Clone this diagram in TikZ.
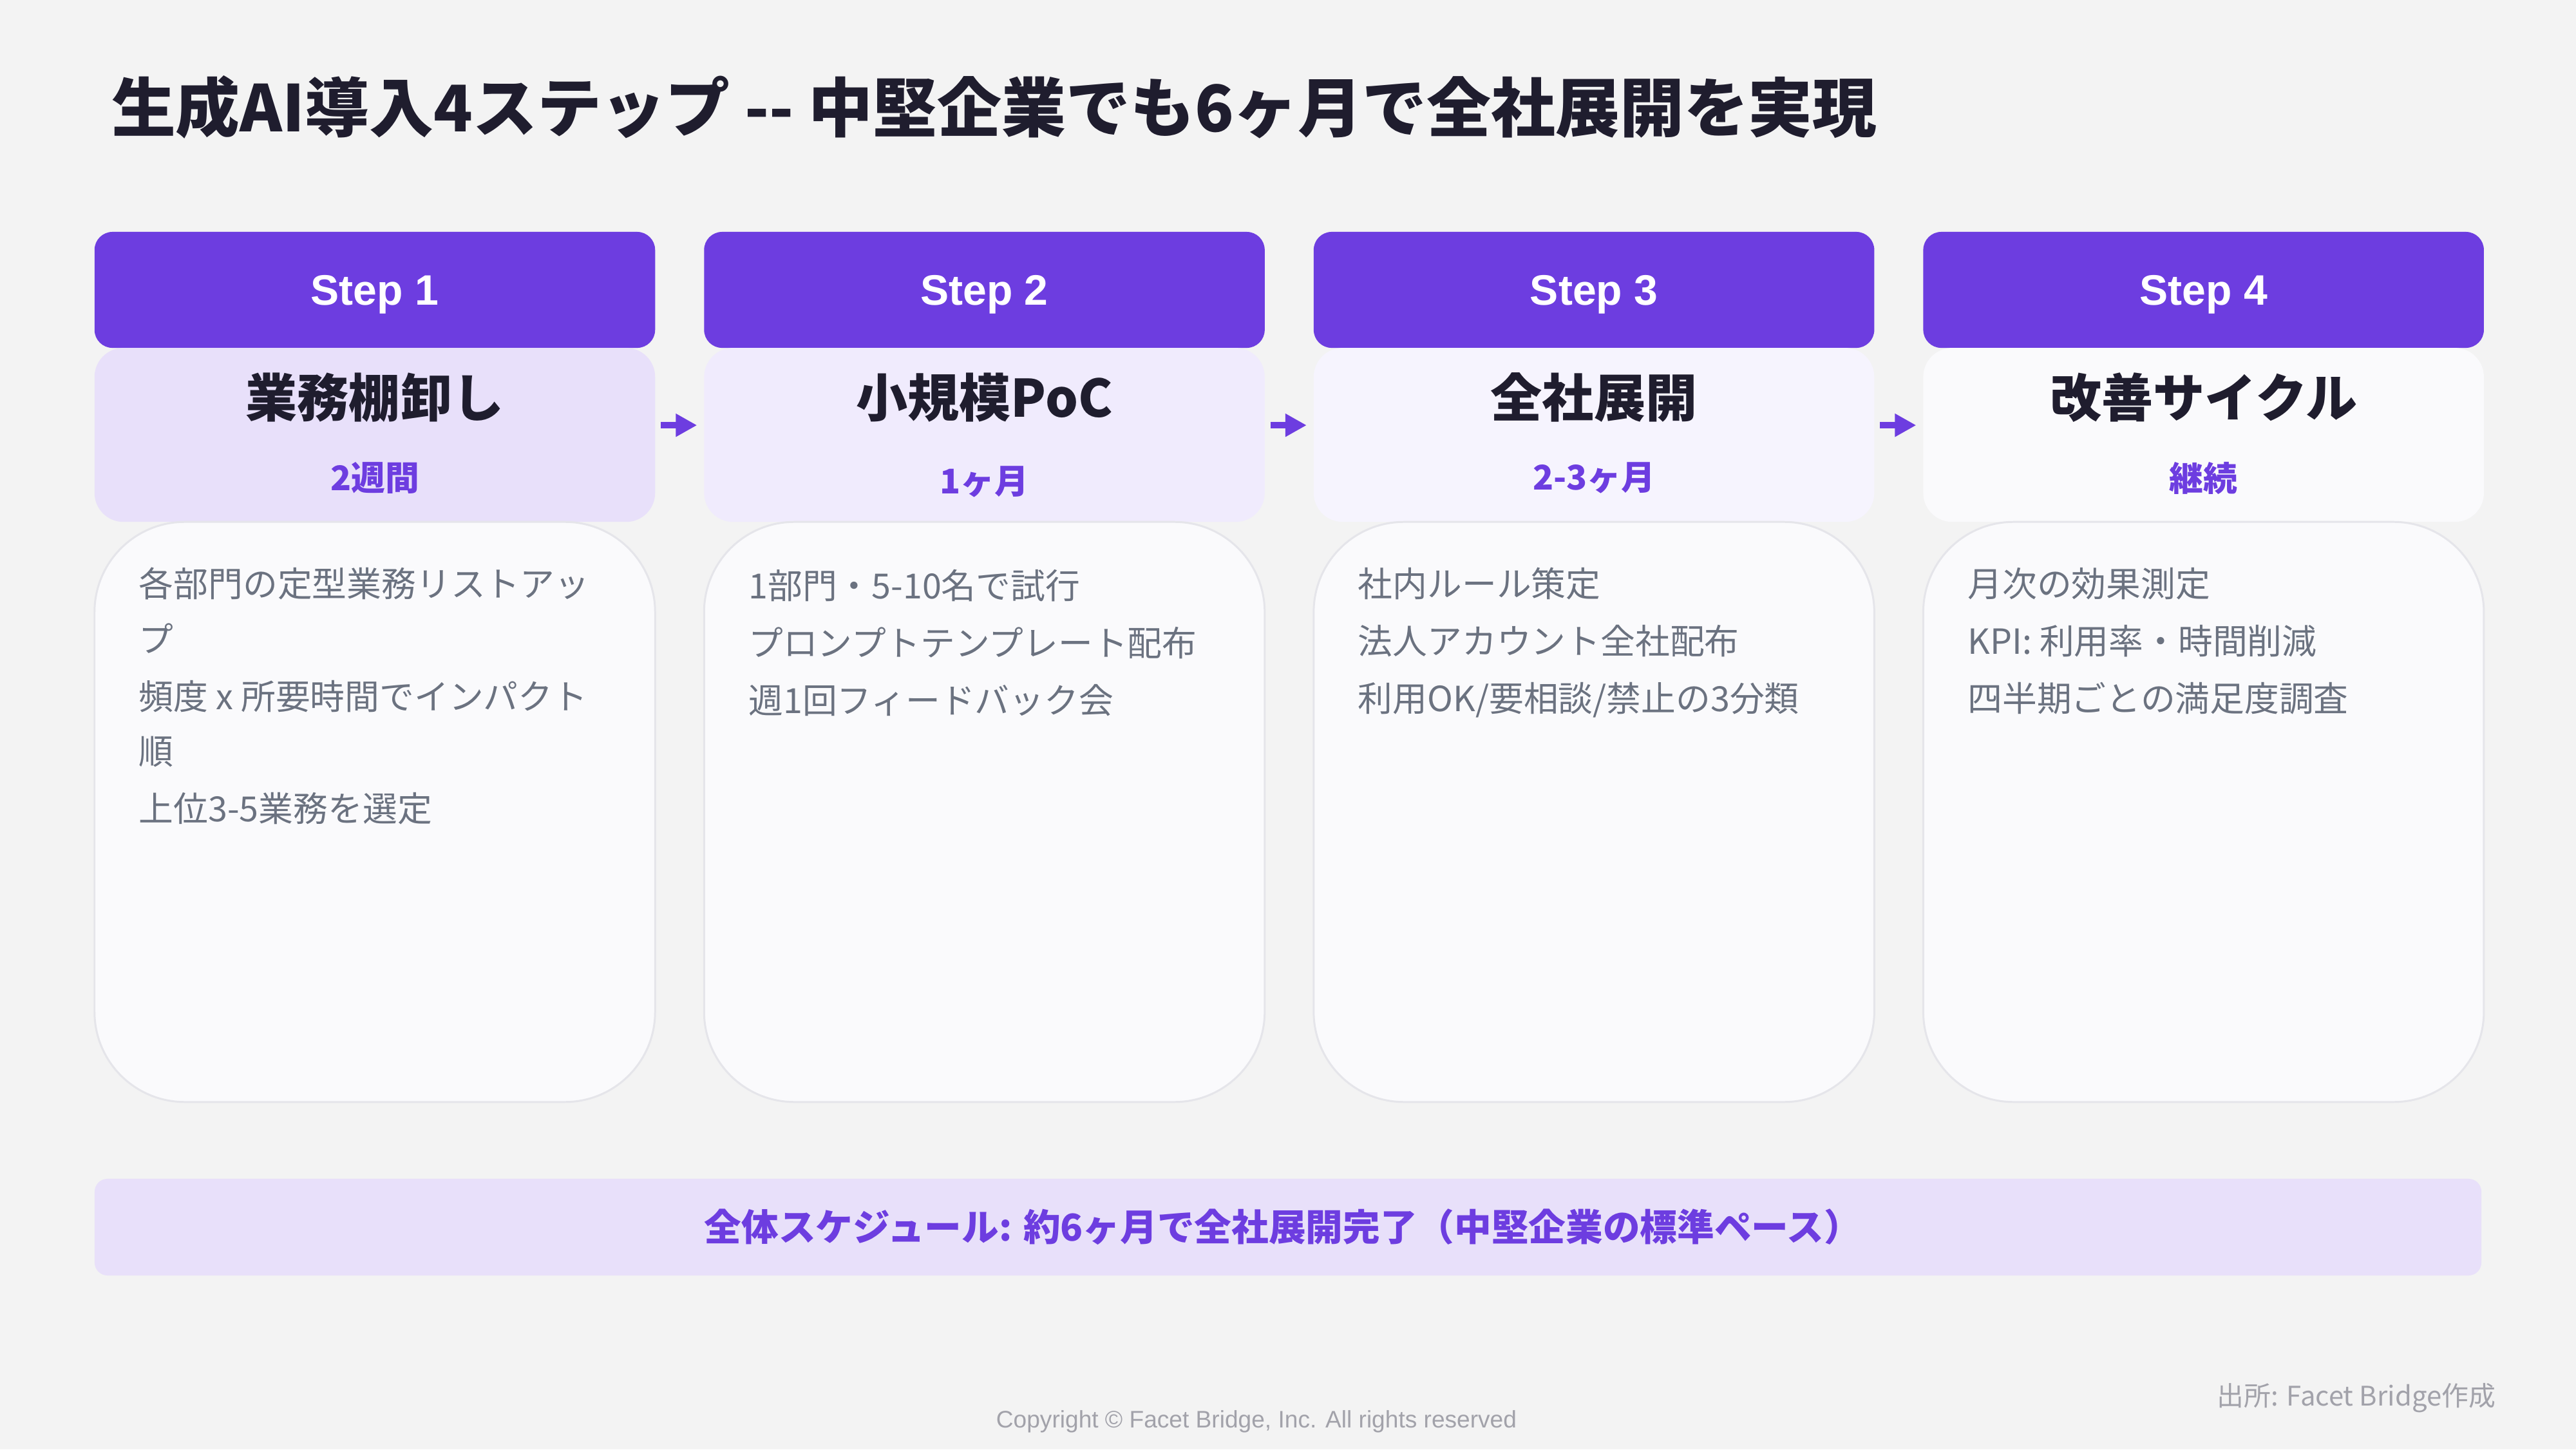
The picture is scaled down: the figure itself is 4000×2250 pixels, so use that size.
\documentclass[tikz,border=0pt]{standalone}
\usepackage{fontspec}
\setmainfont{Noto Sans CJK JP}
\newfontfamily\latinsf{Liberation Sans}
\usepackage{tikz}
\usetikzlibrary{positioning,arrows.meta}
\definecolor{bgc}{HTML}{F3F3F3}
\definecolor{hdc}{HTML}{6D3DE0}
\definecolor{titc}{HTML}{1F1D2E}
\definecolor{ph1c}{HTML}{E8E0FA}
\definecolor{ph2c}{HTML}{F0EBFD}
\definecolor{ph3c}{HTML}{F6F4FE}
\definecolor{ph4c}{HTML}{FAFAFC}
\definecolor{cardc}{HTML}{FAFAFC}
\definecolor{cardline}{HTML}{E5E5EA}
\definecolor{txtc}{HTML}{6B7280}
\definecolor{barc}{HTML}{E8E0FA}
\definecolor{footc}{HTML}{A2A2AA}

\begin{document}
\begin{tikzpicture}[x=0.01cm, y=-0.01cm, every node/.style={outer sep=0pt}]
\tikzstyle{stephead}=[fill=hdc, text=white, rounded corners=2.8mm, minimum width=8.7cm, minimum height=1.8cm, inner sep=0pt, text depth=0pt, font=\latinsf\fontsize{18.8}{22}\selectfont\bfseries]
\tikzstyle{phase}=[rounded corners=4.5mm, minimum width=8.7cm, minimum height=2.7cm, inner sep=0pt]
\tikzstyle{card}=[fill=cardc, draw=cardline, line width=0.85pt, rounded corners=14mm, minimum width=8.7cm, minimum height=9cm, inner sep=0pt]
\tikzstyle{phname}=[text=titc, inner sep=0pt, font=\fontsize{22.8}{27}\selectfont\bfseries]
\tikzstyle{phtime}=[text=hdc, inner sep=0pt, font=\fontsize{15}{18}\selectfont\bfseries]
\tikzstyle{cardtext}=[text=txtc, align=left, anchor=north west, inner sep=0pt, font=\fontsize{15.3}{25.3}\selectfont]
\tikzstyle{flow}=[draw=hdc, line width=1mm, -{Triangle[length=3.3mm,width=3.4mm]}, shorten <=0.9mm, shorten >=1.1mm]

\fill[bgc] (0,0) rectangle (4000,2250);
\useasboundingbox (0,0) rectangle (4000,2250);

% title
\node[anchor=west, text=titc, inner sep=0pt, font=\fontsize{28.4}{33}\selectfont\bfseries] (title) at (173,166) {生成AI導入4ステップ -{}- 中堅企業でも6ヶ月で全社展開を実現};

% step headers
\node[stephead] (st1) at (582,450) {Step 1};
\node[stephead] (st2) [right=7.6mm of st1] {Step 2};
\node[stephead] (st3) [right=7.6mm of st2] {Step 3};
\node[stephead] (st4) [right=7.6mm of st3] {Step 4};

% phase panels
\node[phase, fill=ph1c] (ph1) [below=0mm of st1] {};
\node[phase, fill=ph2c] (ph2) [below=0mm of st2] {};
\node[phase, fill=ph3c] (ph3) [below=0mm of st3] {};
\node[phase, fill=ph4c] (ph4) [below=0mm of st4] {};

\node[phname] (nm1) at ([yshift=-7.7mm]ph1.north) {業務棚卸し};
\node[phname] (nm2) at ([yshift=-7.7mm]ph2.north) {小規模PoC};
\node[phname] (nm3) at ([yshift=-7.7mm]ph3.north) {全社展開};
\node[phname] (nm4) at ([yshift=-7.7mm]ph4.north) {改善サイクル};

\node[phtime] (du1) at ([yshift=-20.2mm]ph1.north) {2週間};
\node[phtime] (du2) at ([yshift=-20.8mm]ph2.north) {1ヶ月};
\node[phtime] (du3) at ([yshift=-20.2mm]ph3.north) {2-3ヶ月};
\node[phtime] (du4) at ([yshift=-20.2mm]ph4.north) {継続};

% cards
\node[card] (cd1) [below=0mm of ph1] {};
\node[card] (cd2) [below=0mm of ph2] {};
\node[card] (cd3) [below=0mm of ph3] {};
\node[card] (cd4) [below=0mm of ph4] {};

\node[cardtext] (tx1) at ([xshift=6.9mm, yshift=-7.1mm]cd1.north west) {各部門の定型業務リストアッ\\[-1pt]プ\\頻度 x 所要時間でインパクト\\[-1pt]順\\上位3-5業務を選定};
\node[cardtext] (tx2) at ([xshift=6.9mm, yshift=-7.4mm]cd2.north west) {1部門・5-10名で試行\\プロンプトテンプレート配布\\週1回フィードバック会};
\node[cardtext] (tx3) at ([xshift=6.9mm, yshift=-7.1mm]cd3.north west) {社内ルール策定\\法人アカウント全社配布\\利用OK/要相談/禁止の3分類};
\node[cardtext] (tx4) at ([xshift=6.9mm, yshift=-7.1mm]cd4.north west) {月次の効果測定\\KPI: 利用率・時間削減\\四半期ごとの満足度調査};

% arrows
\draw[flow] ([yshift=1.5mm]ph1.east) -- ([yshift=1.5mm]ph2.west);
\draw[flow] ([yshift=1.5mm]ph2.east) -- ([yshift=1.5mm]ph3.west);
\draw[flow] ([yshift=1.5mm]ph3.east) -- ([yshift=1.5mm]ph4.west);

% schedule bar
\node[fill=barc, rounded corners=2mm, minimum width=37.04cm, minimum height=1.5cm, text=hdc, font=\fontsize{16.4}{20}\selectfont\bfseries] (bar) at (2000,1905) {\hspace*{-1.6mm}全体スケジュール: 約6ヶ月で全社展開完了（中堅企業の標準ペース）};

% footer
\node[text=footc, inner sep=0pt, font=\latinsf\fontsize{10.55}{12}\selectfont] (copy) at (1951,2207) {Copyright © Facet Bridge, Inc. All rights reserved};
\node[anchor=east, text=footc, inner sep=0pt, font=\fontsize{11.9}{14}\selectfont] (src) at (3875,2170) {出所: Facet Bridge作成};
\end{tikzpicture}
\end{document}
